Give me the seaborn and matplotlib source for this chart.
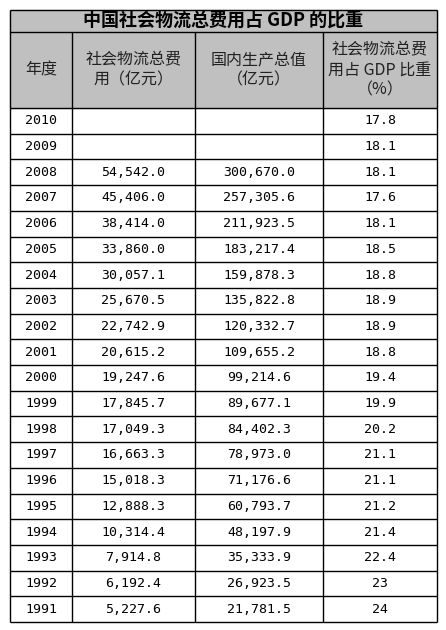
import matplotlib
matplotlib.use("Agg")
import matplotlib.pyplot as plt
import seaborn as sns

sns.set_style("white")
plt.rcParams['font.family'] = ['Noto Sans CJK SC', 'DejaVu Sans']

title = "中国社会物流总费用占 GDP 的比重"
headers = ["年度", "社会物流总费\n用（亿元）", "国内生产总值\n（亿元）", "社会物流总费\n用占 GDP 比重\n（%）"]
years = ["2010", "2009", "2008", "2007", "2006", "2005", "2004", "2003", "2002", "2001", "2000",
         "1999", "1998", "1997", "1996", "1995", "1994", "1993", "1992", "1991"]
logistics = ["", "", "54,542.0", "45,406.0", "38,414.0", "33,860.0", "30,057.1", "25,670.5", "22,742.9",
             "20,615.2", "19,247.6", "17,845.7", "17,049.3", "16,663.3", "15,018.3", "12,888.3",
             "10,314.4", "7,914.8", "6,192.4", "5,227.6"]
gdp = ["", "", "300,670.0", "257,305.6", "211,923.5", "183,217.4", "159,878.3", "135,822.8", "120,332.7",
       "109,655.2", "99,214.6", "89,677.1", "84,402.3", "78,973.0", "71,176.6", "60,793.7",
       "48,197.9", "35,333.9", "26,923.5", "21,781.5"]
ratio = ["17.8", "18.1", "18.1", "17.6", "18.1", "18.5", "18.8", "18.9", "18.9", "18.8", "19.4",
         "19.9", "20.2", "21.1", "21.1", "21.2", "21.4", "22.4", "23", "24"]

W, H = 446, 630
fig = plt.figure(figsize=(W / 100, H / 100), dpi=100)
ax = fig.add_axes([0, 0, 1, 1])
ax.set_xlim(0, W)
ax.set_ylim(H, 0)
ax.axis("off")

xs = [10, 72, 195, 323, 437]
y_title0, y_head0, y_data0, y_end = 10, 32, 108, 622
n = len(years)
rh = (y_end - y_data0) / n
grey = "#c0c0c0"

ax.fill_between([xs[0], xs[-1]], y_title0, y_data0, color=grey, zorder=0)
ax.text((xs[0] + xs[-1]) / 2, (y_title0 + y_head0) / 2, title, ha="center", va="center",
        fontsize=13, fontweight="bold", color="black")
for i, h in enumerate(headers):
    ax.text((xs[i] + xs[i + 1]) / 2, (y_head0 + y_data0) / 2, h, ha="center", va="center",
            fontsize=11.5, color="#222222", linespacing=1.25)

cols = [years, logistics, gdp, ratio]
for r in range(n):
    yc = y_data0 + (r + 0.5) * rh
    for c, col in enumerate(cols):
        ax.text((xs[c] + xs[c + 1]) / 2, yc, col[r], ha="center", va="center",
                fontsize=9.5, family=["DejaVu Sans Mono", "DejaVu Sans"], color="black")

lw = 1.0
ax.hlines([y_title0, y_head0, y_end], xs[0], xs[-1], color="black", lw=lw)
ax.hlines([y_data0 + r * rh for r in range(n)], xs[0], xs[-1], color="black", lw=lw)
ax.vlines([xs[0], xs[-1]], y_title0, y_end, color="black", lw=lw)
ax.vlines(xs[1:-1], y_head0, y_end, color="black", lw=lw)

fig.savefig("out.png", dpi=100)
